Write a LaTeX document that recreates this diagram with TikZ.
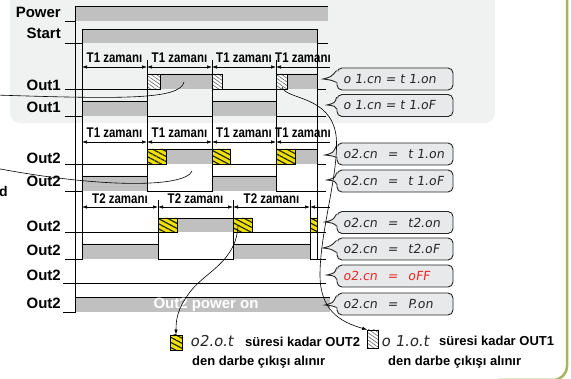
\documentclass[tikz,border=0pt]{standalone}
\usepackage{fontspec}
\setmainfont{Liberation Sans}
\newfontfamily\narrowfont{Liberation Sans}[FakeStretch=0.82]
\newfontfamily\segfont{DejaVu Sans}[FakeSlant=0.15]
\usetikzlibrary{arrows.meta,patterns.meta,calc,positioning}
\definecolor{panelgrey}{RGB}{240,241,241}
\definecolor{bargrey}{RGB}{192,192,192}
\definecolor{boxgrey}{RGB}{232,233,234}
\definecolor{hatchyellow}{RGB}{240,226,0}
\definecolor{framegreen}{RGB}{168,181,96}
\definecolor{segred}{RGB}{236,40,40}
\definecolor{segink}{RGB}{40,40,40}

\begin{document}
\begin{tikzpicture}[x=1pt,y=-1pt,>={Latex[length=5pt,width=3.4pt]}]
        \tikzset{
            sig/.style={draw=black,line width=0.8pt},
            guide/.style={draw=black,line width=0.6pt},
            bar/.style={fill=bargrey},
            dim/.style={draw=black,line width=0.6pt},
            dimlabel/.style={font=\narrowfont\bfseries\fontsize{14}{14}\selectfont,inner sep=0pt,above=4pt},
            rowlabel/.style={font=\bfseries\fontsize{15}{15}\selectfont,inner sep=0pt,anchor=base east},
            yhatch/.style={draw=black,line width=0.7pt,preaction={fill=hatchyellow},
                pattern={Lines[angle=-28,distance=4.5pt,line width=1.2pt]},pattern color=black!85},
            whatch/.style={draw=black,line width=0.7pt,preaction={fill=white},
                pattern={Lines[angle=-35,distance=3pt,line width=0.6pt]},pattern color=black!60},
            callbox/.style={draw=black!85,line width=0.9pt,fill=boxgrey,rounded corners=5pt,
                minimum width=116pt,inner xsep=6pt,inner ysep=0pt,minimum height=22pt,
                font=\segfont\fontsize{12.5}{12.5}\selectfont,text=segink},
            calledge/.style={draw=black!85,line width=0.9pt},
            note/.style={font=\bfseries\fontsize{13}{13}\selectfont,inner sep=0pt,anchor=base west},
            seg/.style={font=\segfont\fontsize{15}{15}\selectfont,inner sep=0pt,anchor=west,text=segink},
            link/.style={draw=black,line width=0.6pt},
        }
\useasboundingbox (0,0) rectangle (571,379);
%% background
\fill[panelgrey,rounded corners=10pt] (10,-15) rectangle (495,123);
\draw[framegreen,line width=2.5pt,rounded corners=14pt] (567,-5) -- (567,380) -- (500,380);

%% row labels
\node[rowlabel] (power) at (61,18) {Power};
\node[rowlabel] (start) at (61,39) {Start};
\node[rowlabel] (outa) at (61,91) {Out1};
\node[rowlabel] (outb) at (61,113) {Out1};
\node[rowlabel] (outc) at (61,164) {Out2};
\node[rowlabel] (outd) at (61,187) {Out2};
\node[rowlabel] (oute) at (61,232) {Out2};
\node[rowlabel] (outf) at (61,256) {Out2};
\node[rowlabel] (outg) at (61,281) {Out2};
\node[rowlabel] (outh) at (61,309) {Out2};
\node[font=\bfseries\fontsize{14}{14}\selectfont,inner sep=0pt,anchor=base west] (cutd) at (-1,197) {d};

%% power and start
\fill[bar] (75,6) rectangle (328,21);
\draw[sig] (65,21) -| (75,6) -- (328,6);
\fill[bar] (82,29) rectangle (317,43);
\draw[sig] (65,43) -| (82,29) -| (317,43) -- (328,43);

%% o1.cn = t1.on / t1.oF
\fill[bar] (160,74) rectangle (212,89) (287,74) rectangle (317,89);
\draw[sig] (65,89) -| (147,74) -| (222,89) -| (276,74) -| (317,89) -- (326,89);
\draw[whatch] (147,74) rectangle (160,89) (212,74) rectangle (222,89) (276,74) rectangle (287,89);
\fill[bar] (82,101) rectangle (147,116) (212,101) rectangle (276,116);
\draw[sig] (65,116) -| (82,101) -| (147,116) -| (212,101) -| (276,116) -- (326,116);

%% o2.cn = t1.on / t1.oF
\fill[bar] (166,149) rectangle (212,164) (295,149) rectangle (317,164);
\draw[sig] (65,164) -| (147,149) -| (230,164) -| (276,149) -| (317,164) -- (326,164);
\draw[yhatch] (147,149) rectangle (166,164) (212,149) rectangle (230,164) (276,149) rectangle (295,164);
\fill[bar] (82,176) rectangle (147,191) (212,176) rectangle (276,191);
\draw[sig] (65,191) -| (82,176) -| (147,191) -| (212,176) -| (276,191) -- (326,191);

%% o2.cn = t2.on / t2.oF
\fill[bar] (177,218) rectangle (233,232);
\draw[sig] (65,232) -| (158,218) -| (252,232) -| (310,218) -| (317,232) -- (326,232);
\draw[yhatch] (158,218) rectangle (177,232) (233,218) rectangle (252,232) (310,218) rectangle (317,232);
\fill[bar] (82,244) rectangle (158,259) (233,244) rectangle (310,259);
\draw[sig] (65,259) -| (82,244) -| (158,259) -| (233,244) -| (310,259) -- (326,259);

%% oFF and P.on
\draw[sig] (63,283) -- (326,283);
\fill[bar] (75,297) rectangle (330,312);
\draw[sig] (63,312) -| (75,297) -- (330,297);
\node[font=\bfseries\fontsize{15}{15}\selectfont,text=white,inner sep=0pt,anchor=base] (pon) at (206,309) {Out2 power on};

%% guides
\draw[guide] (75,21) -- (75,312);
\draw[guide] (82,43) -- (82,259);
\draw[guide] (317,43) -- (317,259);
\foreach \x in {147,212,276} \draw[guide] (\x,60) -- (\x,191);
\foreach \x in {158,233,310} \draw[guide] (\x,200) -- (\x,259);

%% time spans
\foreach \y in {67,142}{
    \foreach \a/\b in {82/147,147/212,212/276}
        \draw[dim,<->] (\a,\y) -- node[dimlabel]{T1 zaman\i} (\b,\y);
    \draw[dim,<-] (276,\y) -- node[dimlabel]{T1 zaman\i} (330,\y);
}
\foreach \a/\b in {82/158,158/233,233/310}
    \draw[dim,<->] (\a,207) -- node[dimlabel,above=3.5pt]{T2 zaman\i} (\b,207);
\draw[dim,<-] (310,207) -- (330,207);

%% callouts
\node[callbox] (cb1) at (395,79) {\makebox[104pt][l]{o 1.cn = t 1.on}};
\node[callbox] (cb2) at (395,105.5) {\makebox[104pt][l]{o 1.cn = t 1.oF}};
\node[callbox] (cb3) at (395,154) {\makebox[104pt][l]{o2.cn\hspace{0.8em}=\hspace{0.8em}t 1.on}};
\node[callbox] (cb4) at (395,181) {\makebox[104pt][l]{o2.cn\hspace{0.8em}=\hspace{0.8em}t 1.oF}};
\node[callbox] (cb5) at (395,222.5) {\makebox[104pt][l]{o2.cn\hspace{0.8em}=\hspace{0.8em}t2.on}};
\node[callbox] (cb6) at (395,249) {\makebox[104pt][l]{o2.cn\hspace{0.8em}=\hspace{0.8em}t2.oF}};
\node[callbox,text=segred] (cb7) at (395,276) {\makebox[104pt][l]{o2.cn\hspace{0.8em}=\hspace{0.8em}oFF}};
\node[callbox] (cb8) at (395,304) {\makebox[104pt][l]{o2.cn\hspace{0.8em}=\hspace{0.8em}P.on}};
\coordinate (ct1) at (323,79);
\coordinate (ct2) at (327,105);
\coordinate (ct3) at (325,155);
\coordinate (ct4) at (327,180);
\coordinate (ct5) at (325,222);
\coordinate (ct6) at (323,248);
\coordinate (ct7) at (327,275);
\coordinate (ct8) at (325,305);
\foreach \i in {1,...,8}{
    \fill[boxgrey] ([shift={(1.5pt,-3pt)}]cb\i.north west) .. controls ($(ct\i)+(8,-2)$) .. (ct\i)
        .. controls ($(ct\i)+(8,1)$) .. ([shift={(1.5pt,8pt)}]cb\i.south west) -- cycle;
    \draw[calledge] ([yshift=-3pt]cb\i.north west) .. controls ($(ct\i)+(8,-2)$) .. (ct\i)
        .. controls ($(ct\i)+(8,1)$) .. ([yshift=8pt]cb\i.south west);
}

%% legend
\node[yhatch,minimum width=12pt,minimum height=15pt,inner sep=0pt] (lico) at (176,342.5) {};
\node[seg] (lseg) at (190,341) {o2.o.t};
\node[note] (ltxt) at (245,347) {süresi kadar OUT2};
\node[note] (ltxt2) at (192,366) {den darbe çıkışı alınır};
\node[whatch,minimum width=11pt,minimum height=18pt,inner sep=0pt] (rico) at (373,339) {};
\node[seg] (rseg) at (381,341) {o 1.o.t};
\node[note] (rtxt) at (439,346) {süresi kadar OUT1};
\node[note] (rtxt2) at (388,366) {den darbe çıkışı alınır};

%% links
\coordinate (o1left) at (-5,95);
\coordinate (o1mark) at (184,82);
\coordinate (o2left) at (-5,168);
\coordinate (o2mark) at (192,171);
\coordinate (o1pulse) at (282,87);
\coordinate (o2pulse) at (238,226);
\draw[link] (o1left) .. controls (120,99) and (180,100) .. (o1mark);
\draw[link] (o2left) .. controls (100,188) and (185,188) .. (o2mark);
\draw[link,->] (o1pulse) .. controls (286,100) and (330,95) .. (336,135)
    .. controls (340,170) and (320,230) .. (320,275)
    .. controls (320,310) and (340,322) .. (rico.north west);
\draw[link,->] (o2pulse) .. controls (236,262) and (205,272) .. (190,292)
    .. controls (178,308) and (176,318) .. (lico.north);
\end{tikzpicture}
\end{document}
